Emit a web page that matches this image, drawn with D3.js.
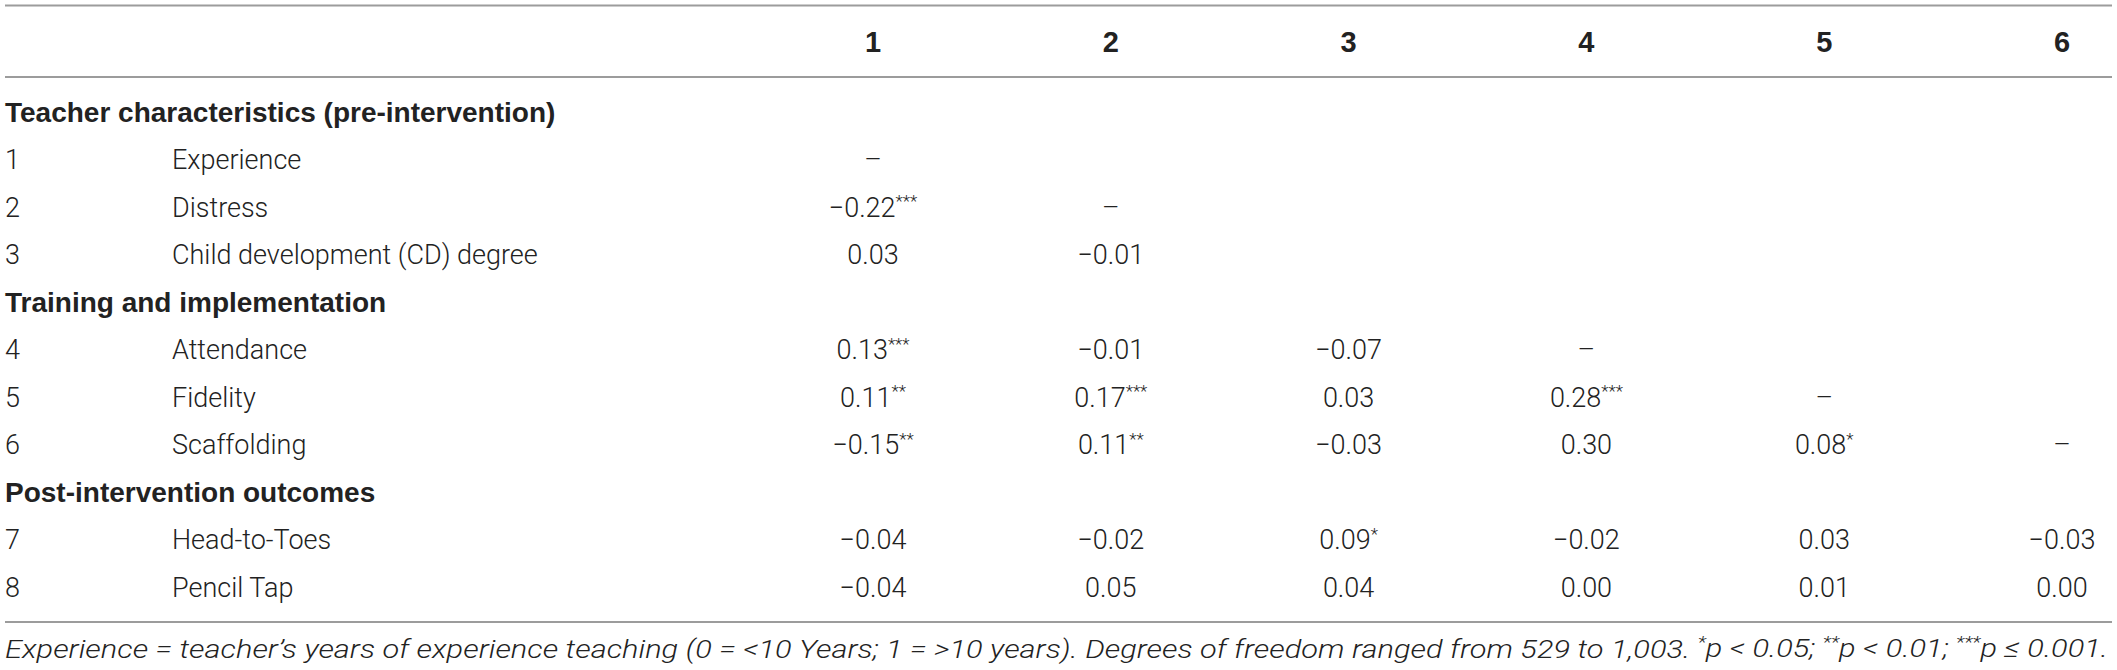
<!DOCTYPE html>
<html>
<head>
  <meta charset="UTF-8">
  <title>Correlation Table</title>
  <script src="https://d3js.org/d3.v7.min.js"></script>
  <style>
    body {
      margin: 0;
      background: #fff;
    }
    svg text {
      fill: #222;
    }
    .body-text {
      font-family: Roboto, "Liberation Sans", sans-serif;
      font-weight: 300;
      font-size: 27px;
    }
    .col-head {
      font-family: "Liberation Sans Narrow", "Liberation Sans", sans-serif;
      font-weight: bold;
      font-size: 29px;
    }
    .section {
      font-family: "Liberation Sans", Arial, sans-serif;
      font-weight: bold;
      font-size: 28px;
    }
    .note {
      font-family: Roboto, "Liberation Sans", sans-serif;
      font-weight: 300;
      font-style: italic;
      font-size: 26.5px;
    }
    .rule {
      stroke: #9c9c9c;
      stroke-width: 2;
    }
  </style>
</head>
<body>
  <div id="table"></div>
  <script>
    const columns = ["1", "2", "3", "4", "5", "6"];
    const sections = [
      "Teacher characteristics (pre-intervention)",
      "Training and implementation",
      "Post-intervention outcomes"
    ];
    const variables = [
      "Experience", "Distress", "Child development (CD) degree",
      "Attendance", "Fidelity", "Scaffolding",
      "Head-to-Toes", "Pencil Tap"
    ];
    const variableSection = [0, 0, 0, 1, 1, 1, 2, 2];
    // null = diagonal dash
    const corr = [
      [null],
      [-0.22, null],
      [0.03, -0.01],
      [0.13, -0.01, -0.07, null],
      [0.11, 0.17, 0.03, 0.28, null],
      [-0.15, 0.11, -0.03, 0.30, 0.08, null],
      [-0.04, -0.02, 0.09, -0.02, 0.03, -0.03],
      [-0.04, 0.05, 0.04, 0.00, 0.01, 0.00]
    ];
    const stars = [
      [0],
      [3, 0],
      [0, 0],
      [3, 0, 0, 0],
      [2, 3, 0, 3, 0],
      [2, 2, 0, 0, 1, 0],
      [0, 0, 1, 0, 0, 0],
      [0, 0, 0, 0, 0, 0]
    ];
    const footnote = [
      { t: "Experience = teacher\u2019s years of experience teaching (0 =  <10 Years; 1 = >10 years). Degrees of freedom ranged from 529 to 1,003. " },
      { t: "*", sup: true }, { t: "p < 0.05; " },
      { t: "**", sup: true }, { t: "p < 0.01; " },
      { t: "***", sup: true }, { t: "p \u2264 0.001." }
    ];

    const width = 2117, height = 670;
    const left = 5, right = 2112, labelX = 172;

    // build the row sequence: section titles then their variables
    const rows = [];
    sections.forEach((s, si) => {
      rows.push({ type: "section", text: s });
      variables.forEach((v, vi) => {
        if (variableSection[vi] === si) rows.push({ type: "var", num: vi + 1, text: v, idx: vi });
      });
    });

    const xScale = d3.scalePoint()
      .domain(columns)
      .range([873, 2062]);

    const yScale = d3.scaleLinear()
      .domain([0, rows.length - 1])
      .range([112, 587]);

    const fmt = d3.format(".2f");

    const svg = d3.select("#table")
      .append("svg")
      .attr("width", width)
      .attr("height", height);

    // rules
    svg.selectAll(".rule")
      .data([5.5, 77, 622])
      .enter()
      .append("line")
      .attr("class", "rule")
      .attr("x1", left)
      .attr("x2", right)
      .attr("y1", d => d)
      .attr("y2", d => d);

    // column heads
    svg.selectAll(".col-head")
      .data(columns)
      .enter()
      .append("text")
      .attr("class", "col-head")
      .attr("x", d => xScale(d))
      .attr("y", 42)
      .attr("dy", "0.36em")
      .attr("text-anchor", "middle")
      .text(d => d);

    const rowG = svg.selectAll(".row")
      .data(rows)
      .enter()
      .append("g")
      .attr("class", "row")
      .attr("transform", (d, i) => `translate(0, ${yScale(i)})`);

    rowG.filter(d => d.type === "section")
      .append("text")
      .attr("class", "section")
      .attr("x", left)
      .attr("dy", "0.36em")
      .text(d => d.text);

    const varRows = rowG.filter(d => d.type === "var");

    varRows.append("text")
      .attr("class", "body-text")
      .attr("x", left)
      .attr("dy", "0.36em")
      .text(d => d.num);

    varRows.append("text")
      .attr("class", "body-text")
      .attr("x", labelX)
      .attr("dy", "0.36em")
      .text(d => d.text);

    varRows.each(function(d) {
      const g = d3.select(this);
      const cells = corr[d.idx].map((v, j) => ({ v, s: stars[d.idx][j], col: columns[j] }));
      const t = g.selectAll(".cell")
        .data(cells)
        .enter()
        .append("text")
        .attr("class", "cell body-text")
        .attr("x", c => xScale(c.col))
        .attr("dy", "0.36em")
        .attr("text-anchor", "middle");
      t.append("tspan")
        .text(c => c.v === null ? "\u2013" : fmt(c.v));
      t.filter(c => c.s > 0)
        .append("tspan")
        .attr("font-size", "17px")
        .attr("dy", "-0.55em")
        .text(c => "*".repeat(c.s));
    });

    // footnote, stretched to the rule width like the original
    const note = svg.append("text")
      .attr("class", "note")
      .attr("x", left)
      .attr("y", 648)
      .attr("dy", "0.36em");

    footnote.forEach((p, i) => {
      const prevSup = i > 0 && footnote[i - 1].sup;
      note.append("tspan")
        .attr("font-size", p.sup ? "17px" : null)
        .attr("dy", p.sup ? "-0.55em" : (prevSup ? "0.35em" : null))
        .text(p.t);
    });

    note.attr("textLength", right - left - 4).attr("lengthAdjust", "spacingAndGlyphs");
  </script>
</body>
</html>
